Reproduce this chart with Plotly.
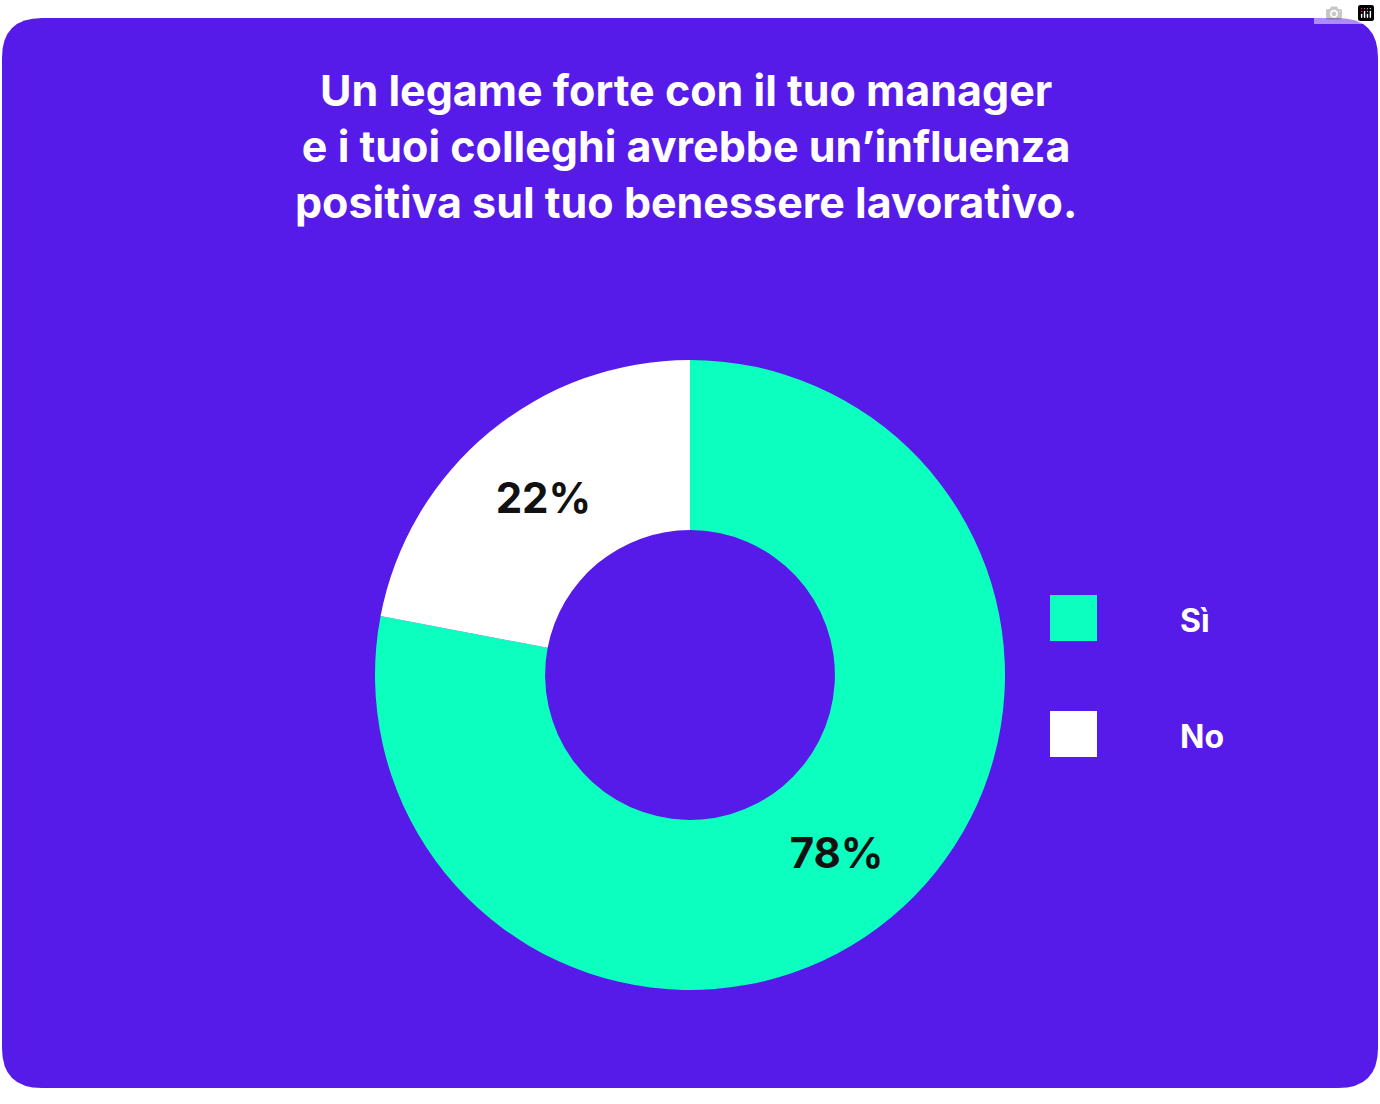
import plotly.graph_objects as go

labels = ["Sì", "No"]
values = [78, 22]
colors = ["#0DFFBF", "#FFFFFF"]
title_lines = ["Un legame forte con il tuo manager",
               "e i tuoi colleghi avrebbe un’influenza",
               "positiva sul tuo benessere lavorativo."]

W, H = 1380, 1104
PURPLE = "#561BE8"

fig = go.Figure()
fig.add_trace(go.Pie(
    labels=labels, values=values, hole=0.46, sort=False,
    direction="clockwise", rotation=0,
    marker=dict(colors=colors, line=dict(width=0)),
    texttemplate="%{value}%", textposition="inside", insidetextorientation="horizontal",
    textfont=dict(family="Inter", size=42, color="#111111", weight="bold"),
    showlegend=False, hoverinfo="label+percent",
    domain=dict(x=[375 / W, 1005 / W], y=[1 - 990 / H, 1 - 360 / H]),
))

x0, y0, x1, y1, r = 2, 18, 1378, 1088, 40
path = (f"M {x0+r},{y0} L {x1-r},{y0} Q {x1},{y0} {x1},{y0+r} L {x1},{y1-r} "
        f"Q {x1},{y1} {x1-r},{y1} L {x0+r},{y1} Q {x0},{y1} {x0},{y1-r} "
        f"L {x0},{y0+r} Q {x0},{y0} {x0+r},{y0} Z")
shapes = [dict(type="path", path=path, xref="x", yref="y", fillcolor=PURPLE,
               line=dict(width=0), layer="below")]
annotations = [dict(text="<br>".join(title_lines), x=686, y=146, xref="x", yref="y",
                    showarrow=False, font=dict(family="Inter", size=43, color="white", weight="bold"),
                    align="center")]
for i, (lab, col) in enumerate(zip(labels, colors)):
    cy = 618 + i * 116
    shapes.append(dict(type="rect", x0=1050, x1=1097, y0=cy - 23, y1=cy + 23,
                       xref="x", yref="y", fillcolor=col, line=dict(width=0)))
    annotations.append(dict(text=lab, x=1178, y=cy + 2, xref="x", yref="y", xanchor="left",
                            showarrow=False,
                            font=dict(family="Inter", size=32, color="white", weight="bold")))

fig.update_layout(
    width=W, height=H, margin=dict(l=0, r=0, t=0, b=0),
    paper_bgcolor="white", plot_bgcolor="rgba(0,0,0,0)",
    xaxis=dict(range=[0, W], visible=False, fixedrange=True),
    yaxis=dict(range=[H, 0], visible=False, fixedrange=True),
    shapes=shapes, annotations=annotations,
)
fig.write_html("out.html", post_script="document.body.style.margin='0';document.body.style.overflow='hidden';")
